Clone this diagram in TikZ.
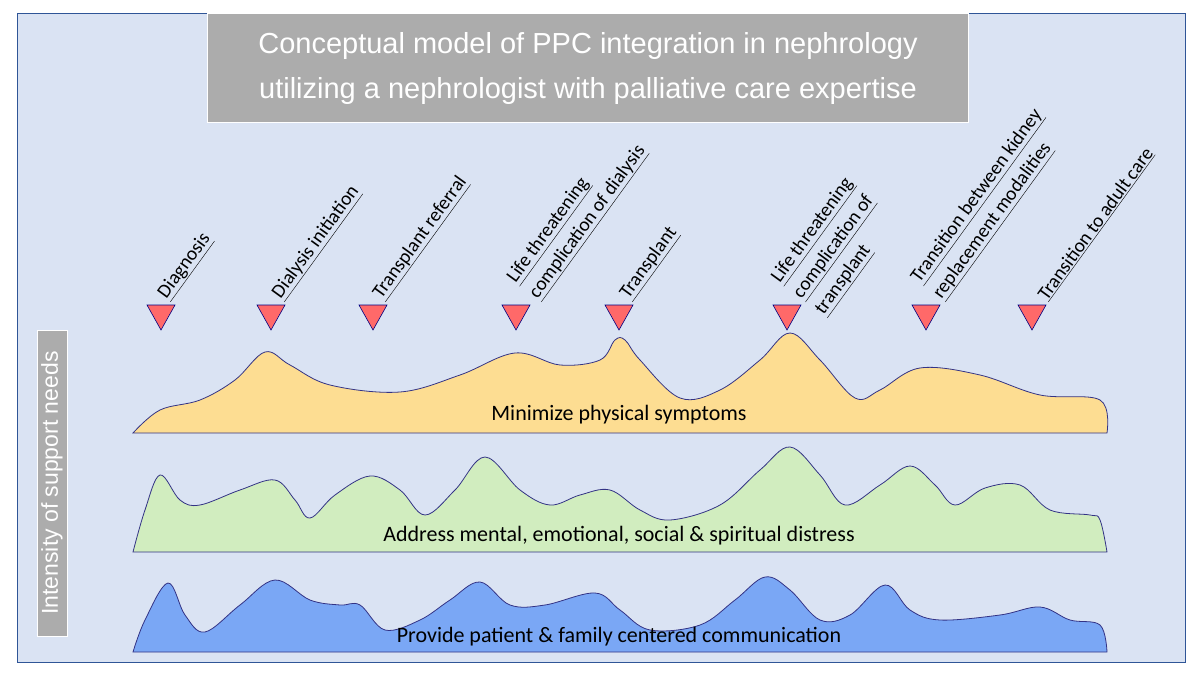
\documentclass[tikz,border=0pt]{standalone}
\usepackage{fontspec}
\setmainfont{Carlito}
\newfontfamily\arialf{Liberation Sans}
\begin{document}
\begin{tikzpicture}[x=1pt,y=-1pt,
  curve/.style={draw=blue!40!black!80, line width=0.8pt},
  tri/.style={fill=red!45!pink, draw=blue!50!black, line width=0.6pt},
  lab/.style={rotate=54, anchor=south west, align=left, font=\fontsize{19.5}{27}\selectfont, inner sep=1pt},
  ctext/.style={font=\fontsize{22}{24}\selectfont}]
\useasboundingbox (0,0) rectangle (1200,675);
\definecolor{bgblue}{HTML}{DAE3F3}
\definecolor{bord}{HTML}{2F5597}
\node[draw=bord, fill=bgblue, line width=0.8pt, minimum width=1168pt, minimum height=649pt, anchor=north west, inner sep=0pt] (bg) at (17,13) {};
\node[fill=gray!65, draw=white, line width=1pt, minimum width=761pt, minimum height=109pt, anchor=north west, text=white, align=center, font=\arialf\fontsize{29}{45}\selectfont] (title) at (207,13) {Conceptual model of PPC integration in nephrology\\utilizing a nephrologist with palliative care expertise};
\node[fill=gray!65, draw=white, line width=1pt, minimum width=306pt, minimum height=30pt, rotate=90, text=white, font=\arialf\fontsize{23}{26}\selectfont] (side) at (52,483) {Intensity of support needs};
% curves
\fill[yellow!40!orange!40, curve] plot[smooth, tension=0.6] coordinates {(133,433)(160,410)(200,400)(235,380)(265,352)(290,365)(330,385)(400,392)(460,375)(515,353)(560,365)(600,360)(615,340)(625,340)(640,360)(680,398)(720,390)(760,360)(790,333)(820,360)(855,398)(880,390)(920,368)(980,375)(1040,395)(1100,400)(1107,433)} -- cycle;
\fill[green!45!olive!25!white, curve] plot[smooth, tension=0.6] coordinates {(133,552)(145,510)(160,475)(180,500)(200,505)(240,490)(275,480)(295,500)(310,518)(335,495)(370,476)(400,490)(425,515)(455,490)(485,457)(520,490)(550,505)(580,495)(610,490)(640,510)(670,520)(720,505)(760,470)(790,447)(820,475)(845,505)(880,485)(910,466)(935,485)(955,505)(985,488)(1020,485)(1050,510)(1090,515)(1100,520)(1107,552)} -- cycle;
\definecolor{cblue}{HTML}{7AA7F5}
\fill[cblue, curve] plot[smooth, tension=0.6] coordinates {(133,652)(145,620)(168,583)(185,615)(205,632)(240,605)(275,580)(310,600)(340,605)(360,605)(385,630)(420,620)(450,600)(480,582)(510,605)(545,605)(595,593)(620,610)(650,630)(700,625)(735,600)(765,577)(790,590)(820,620)(850,615)(885,585)(910,610)(940,620)(1000,615)(1040,607)(1070,620)(1100,625)(1107,652)} -- cycle;
\node[ctext] (c1) at (619,415) {Minimize physical symptoms};
\node[ctext] (c2) at (619,536) {Address mental, emotional, social \& spiritual distress};
\node[ctext] (c3) at (619,637) {Provide patient \& family centered communication};
% triangles
\foreach \x/\n in {161/t1,271/t2,373/t3,516/t4,619/t5,787/t6,926/t7,1032/t8}{
  \draw[tri] (\x-14,305) -- (\x+14,305) -- (\x,330) -- cycle;
}
\node[lab] (l1) at (171,304) {\underline{Diagnosis}};
\node[lab] (l2) at (285,304) {\underline{Dialysis initiation}};
\node[lab] (l3) at (386,304) {\underline{Transplant referral}};
\node[lab] (l4) at (542,304) {\underline{Life threatening}\\\underline{complication of dialysis}};
\node[lab] (l5) at (633,304) {\underline{Transplant}};
\node[lab] (l6) at (828,320) {\underline{Life threatening}\\\underline{complication of}\\\underline{transplant}};
\node[lab] (l7) at (946,304) {\underline{Transition between kidney}\\\underline{replacement modalities}};
\node[lab] (l8) at (1049,304) {\underline{Transition to adult care}};
\end{tikzpicture}
\end{document}
